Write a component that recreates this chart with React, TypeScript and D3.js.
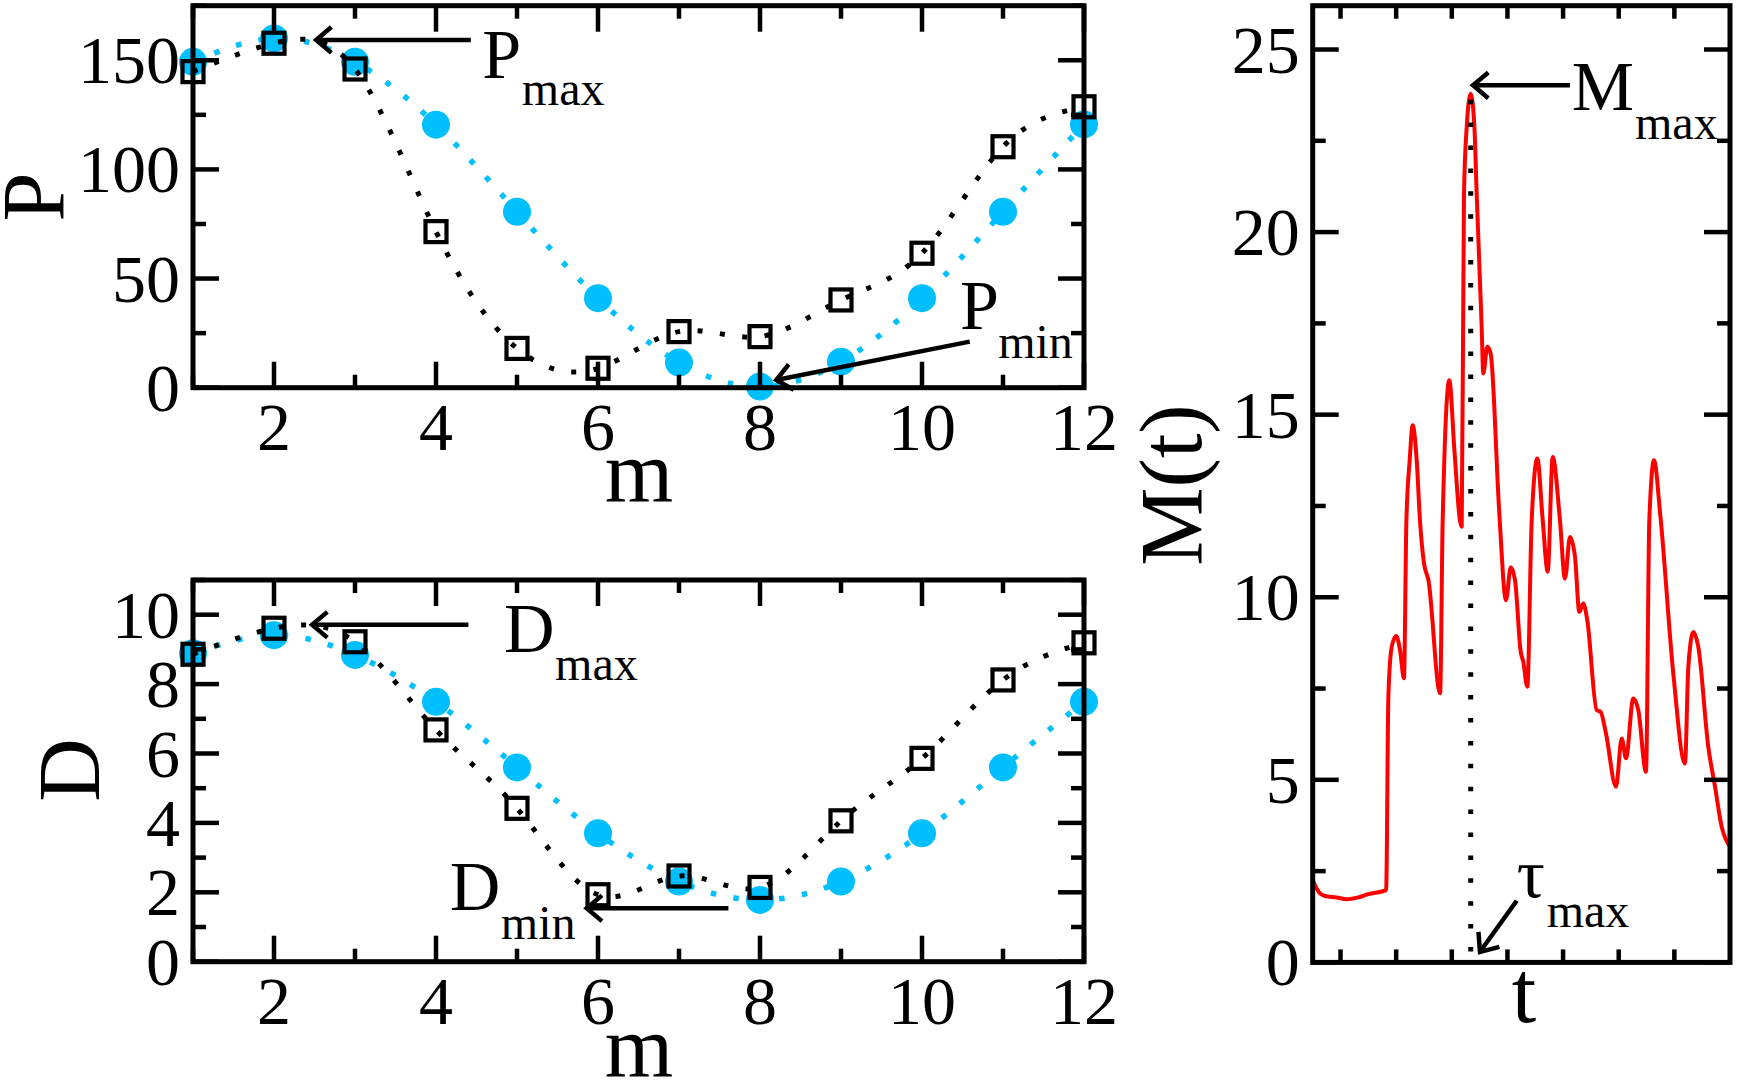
import * as d3 from "d3";

const W = 1738;
const H = 1084;
const FONT = "Liberation Serif, DejaVu Serif, Times New Roman, serif";
const BLUE = "#00bfff";

// shared x for the two left panels
const mValues = [1, 2, 3, 4, 5, 6, 7, 8, 9, 10, 11, 12];
const mTicksMajor = [2, 4, 6, 8, 10, 12];
const mTicksMinor = [1, 3, 5, 7, 9, 11];

// top-left panel: P(m)
const pCircle = [149.3, 160, 149.3, 120.5, 80.6, 41, 11.5, 0.5, 11.9, 41, 80.6, 120.6];
const pSquare = [144.8, 157.8, 146, 71.5, 18, 8.9, 25.7, 23.4, 40.2, 61.6, 110.4, 128.7];
const pTicksMajor = [0, 50, 100, 150];
const pTicksMinor = [25, 75, 125, 175];

// bottom-left panel: D(m)
const dCircle = [8.89, 9.41, 8.84, 7.49, 5.6, 3.7, 2.31, 1.78, 2.31, 3.7, 5.6, 7.49];
const dSquare = [8.86, 9.61, 9.22, 6.68, 4.42, 1.93, 2.47, 2.14, 4.06, 5.86, 8.12, 9.19];
const dTicksMajor = [0, 2, 4, 6, 8, 10];
const dTicksMinor = [1, 3, 5, 7, 9, 11];

// right panel: M(t)
const tValues = [
  0, 13, 22, 43, 61, 82, 100, 132, 136, 142, 150, 157, 164, 168.4, 174.3, 179.7,
  186.9, 192.8, 200, 208, 229, 233.6, 245.5, 254.8, 264.7, 267.8, 271.9, 276.8, 284,
  290.6, 294.7, 303.7, 306.6, 313.8, 319.9, 335.4, 347.4, 355.9, 363.6, 373.8, 378.5,
  385.7, 393.6, 403.7, 413.4, 422.4, 431.3, 444.4, 453.4, 462.4, 471.4, 479.2, 486.3,
  493.5, 510.4, 517.6, 527.1, 545.1, 555.4, 563.1, 576.2, 585.2, 599, 605, 613.4, 625,
  648.1, 669.1, 675.1, 684.1, 693, 711, 723.1, 735.1, 750,
];
const mtValues = [
  2.25, 1.89, 1.82, 1.78, 1.73, 1.78, 1.87, 1.98, 7.27, 8.64, 8.94, 8.55, 7.78, 12.1, 13.75,
  14.71, 13.75, 12.1, 10.93, 10.47, 7.37, 12.1, 15.94, 14.0, 12.1, 11.93, 21.05, 22.88, 23.79,
  22.88, 21.05, 17.4, 16.13, 16.86, 16.67, 12.29, 9.92, 10.82, 10.47, 8.51, 8.23,
  7.55, 12.11, 13.8, 12.11, 10.7, 13.84, 12.11, 10.51, 11.65, 11.11, 9.6, 9.83,
  9.37, 6.91, 6.86, 6.27, 4.81, 6.13, 5.59, 7.23, 6.91, 5.22, 12.11, 13.75, 12.2,
  7.91, 5.45, 8.09, 9.05, 8.64, 5.9, 4.81, 3.71, 3.17,
];
const tTicks = [50, 150, 250, 350, 450, 550, 650];
const mtTicksMajor = [0, 5, 10, 15, 20, 25];
const mtTicksMinor = [2.5, 7.5, 12.5, 17.5, 22.5];

const xLeft = d3.scaleLinear().domain([1, 12]).range([193, 1084]);
const yP = d3.scaleLinear().domain([0, 175]).range([387.7, 5.7]);
const yD = d3.scaleLinear().domain([0, 11]).range([961.7, 580]);
const xT = d3.scaleLinear().domain([0, 750]).range([1312.7, 1730]);
const yM = d3.scaleLinear().domain([0, 26.2]).range([962.4, 5.7]);

const MAJ = 26;
const MIN = 13;
const TICK_FS = 68;
const LABEL_FS = 88;

type Scale = d3.ScaleLinear<number, number>;

function Frame(props: {
  x: Scale;
  y: Scale;
  xMajor: number[];
  xMinor: number[];
  yMajor: number[];
  yMinor: number[];
  xLabels: number[];
  yLabels: number[];
}) {
  const { x, y } = props;
  const [x0, x1] = x.range();
  const [y0, y1] = y.range();
  const ticks: JSX.Element[] = [];
  const addX = (v: number, len: number, k: string) => {
    ticks.push(<line key={"xb" + k} x1={x(v)} x2={x(v)} y1={y0} y2={y0 - len} />);
    ticks.push(<line key={"xt" + k} x1={x(v)} x2={x(v)} y1={y1} y2={y1 + len} />);
  };
  const addY = (v: number, len: number, k: string) => {
    ticks.push(<line key={"yl" + k} x1={x0} x2={x0 + len} y1={y(v)} y2={y(v)} />);
    ticks.push(<line key={"yr" + k} x1={x1} x2={x1 - len} y1={y(v)} y2={y(v)} />);
  };
  props.xMajor.forEach((v) => addX(v, MAJ, "M" + v));
  props.xMinor.forEach((v) => addX(v, MIN, "m" + v));
  props.yMajor.forEach((v) => addY(v, MAJ, "M" + v));
  props.yMinor.forEach((v) => addY(v, MIN, "m" + v));
  return (
    <g>
      <g stroke="#000" strokeWidth={4.5}>{ticks}</g>
      <rect x={x0} y={y1} width={x1 - x0} height={y0 - y1} fill="none" stroke="#000" strokeWidth={5} />
      <g style={{ fontFamily: FONT }} fontSize={TICK_FS} fill="#000">
        {props.xLabels.map((v) => (
          <text key={"xl" + v} x={x(v)} y={y0 + 62} textAnchor="middle">
            {v}
          </text>
        ))}
        {props.yLabels.map((v) => (
          <text key={"yl" + v} x={x0 - 13} y={y(v) + 23} textAnchor="end">
            {v}
          </text>
        ))}
      </g>
    </g>
  );
}

function Arrow({ x1, y1, x2, y2 }: { x1: number; y1: number; x2: number; y2: number }) {
  // tail (x1,y1) -> tip (x2,y2)
  const ang = Math.atan2(y1 - y2, x1 - x2);
  const L = 20;
  const a = 0.7;
  const p1 = [x2 + L * Math.cos(ang + a), y2 + L * Math.sin(ang + a)];
  const p2 = [x2 + L * Math.cos(ang - a), y2 + L * Math.sin(ang - a)];
  return (
    <g stroke="#000" strokeWidth={4.5} fill="none">
      <line x1={x1} y1={y1} x2={x2} y2={y2} />
      <path d={`M${p1[0]},${p1[1]}L${x2},${y2}L${p2[0]},${p2[1]}`} />
    </g>
  );
}

function SubLabel({ x, y, main, sub, sx, sy }: { x: number; y: number; main: string; sub: string; sx: number; sy: number }) {
  return (
    <g style={{ fontFamily: FONT }} fill="#000">
      <text x={x} y={y} fontSize={70}>
        {main}
      </text>
      <text x={sx} y={sy} fontSize={48}>
        {sub}
      </text>
    </g>
  );
}

function Series({ x, y, circles, squares }: { x: Scale; y: Scale; circles: number[]; squares: number[] }) {
  const line = d3
    .line<number>()
    .x((_, i) => x(mValues[i]))
    .y((d) => y(d))
    .curve(d3.curveNatural);
  return (
    <g>
      <path d={line(circles) || ""} fill="none" stroke={BLUE} strokeWidth={5.5} strokeDasharray="5.5 17.5" />
      {circles.map((v, i) => (
        <circle key={"c" + i} cx={x(mValues[i])} cy={y(v)} r={14} fill={BLUE} />
      ))}
      <path d={line(squares) || ""} fill="none" stroke="#000" strokeWidth={5} strokeDasharray="5 17.5" />
      {squares.map((v, i) => (
        <rect
          key={"s" + i}
          x={x(mValues[i]) - 10.5}
          y={y(v) - 10.5}
          width={21}
          height={21}
          fill="none"
          stroke="#000"
          strokeWidth={4.2}
        />
      ))}
    </g>
  );
}

export default function App() {
  const mtLine = d3
    .line<number>()
    .x((_, i) => xT(tValues[i]))
    .y((d) => yM(d))
    .curve(d3.curveMonotoneX);
  const peakIdx = d3.maxIndex(mtValues);
  const tPeak = tValues[peakIdx];
  const mPeak = mtValues[peakIdx];

  return (
    <svg
      width={W}
      height={H}
      viewBox={`0 0 ${W} ${H}`}
      style={{ position: "absolute", left: 0, top: 0, display: "block", background: "#fff" }}
    >
      <rect width={W} height={H} fill="#fff" />

      {/* top-left: P vs m */}
      <Series x={xLeft} y={yP} circles={pCircle} squares={pSquare} />
      <Frame
        x={xLeft}
        y={yP}
        xMajor={mTicksMajor}
        xMinor={mTicksMinor}
        yMajor={pTicksMajor}
        yMinor={pTicksMinor}
        xLabels={mTicksMajor}
        yLabels={pTicksMajor}
      />
      <Arrow x1={xLeft(4.43)} y1={yP(159.3)} x2={xLeft(2.52)} y2={yP(159.3)} />
      <SubLabel x={xLeft(4.57)} y={yP(141.9)} main="P" sub="max" sx={xLeft(5.06)} sy={yP(129.5)} />
      <Arrow x1={xLeft(10.59)} y1={yP(21.1)} x2={xLeft(8.2)} y2={yP(3.5)} />
      <SubLabel x={xLeft(10.47)} y={yP(26.9)} main="P" sub="min" sx={xLeft(10.94)} sy={yP(13.5)} />

      {/* bottom-left: D vs m */}
      <Series x={xLeft} y={yD} circles={dCircle} squares={dSquare} />
      <Frame
        x={xLeft}
        y={yD}
        xMajor={mTicksMajor}
        xMinor={mTicksMinor}
        yMajor={dTicksMajor}
        yMinor={dTicksMinor}
        xLabels={mTicksMajor}
        yLabels={dTicksMajor}
      />
      <Arrow x1={xLeft(4.4)} y1={yD(9.71)} x2={xLeft(2.47)} y2={yD(9.71)} />
      <SubLabel x={xLeft(4.84)} y={yD(8.93)} main="D" sub="max" sx={xLeft(5.47)} sy={yD(8.12)} />
      <Arrow x1={xLeft(7.61)} y1={yD(1.54)} x2={xLeft(5.86)} y2={yD(1.54)} />
      <SubLabel x={xLeft(4.17)} y={yD(1.49)} main="D" sub="min" sx={xLeft(4.8)} sy={yD(0.65)} />

      {/* right: M(t) */}
      <path d={mtLine(mtValues) || ""} fill="none" stroke="#ff0000" strokeWidth={4} strokeLinejoin="round" />
      <line
        x1={xT(tPeak)}
        x2={xT(tPeak)}
        y1={yM(mPeak) + 6}
        y2={yM(0)}
        stroke="#000"
        strokeWidth={5}
        strokeDasharray="4.5 18.4"
      />
      <Frame
        x={xT}
        y={yM}
        xMajor={[]}
        xMinor={tTicks}
        yMajor={mtTicksMajor}
        yMinor={mtTicksMinor}
        xLabels={[]}
        yLabels={mtTicksMajor}
      />
      <Arrow x1={xT(462.4)} y1={yM(24.02)} x2={xT(288.1)} y2={yM(24.02)} />
      <SubLabel x={xT(465.5)} y={yM(23.33)} main="M" sub="max" sx={xT(579.3)} sy={yM(22.56)} />
      <Arrow x1={xT(366.6)} y1={yM(1.69)} x2={xT(300.7)} y2={yM(0.29)} />
      <SubLabel x={xT(366.6)} y={yM(1.8)} main="τ" sub="max" sx={xT(420.6)} sy={yM(0.98)} />

      {/* axis titles */}
      <g style={{ fontFamily: FONT }} fontSize={LABEL_FS} fill="#000">
        <text transform="translate(63,197) rotate(-90)" textAnchor="middle">
          P
        </text>
        <text x={639} y={502} textAnchor="middle">
          m
        </text>
        <text transform="translate(99,770) rotate(-90)" textAnchor="middle">
          D
        </text>
        <text x={639} y={1077} textAnchor="middle">
          m
        </text>
        <text transform="translate(1201,485) rotate(-90)" textAnchor="middle">
          M(t)
        </text>
        <text x={1524} y={1022} textAnchor="middle">
          t
        </text>
      </g>
    </svg>
  );
}
